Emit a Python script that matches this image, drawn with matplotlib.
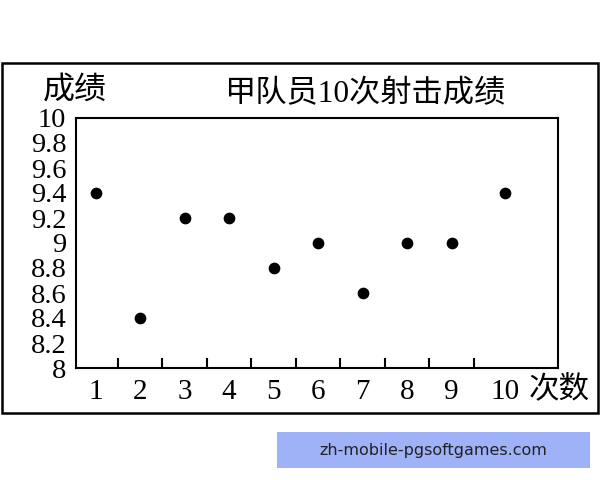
import matplotlib
matplotlib.use("Agg")
import matplotlib.pyplot as plt
from matplotlib.patches import Rectangle

plt.rcParams['font.family'] = ['Liberation Serif', 'Noto Sans CJK SC', 'DejaVu Sans']

shots = [1, 2, 3, 4, 5, 6, 7, 8, 9, 10]
shot_pos = [1, 2, 3, 4, 5, 6, 7, 8, 9, 10.2]
scores = [9.4, 8.4, 9.2, 9.2, 8.8, 9.0, 8.6, 9.0, 9.0, 9.4]
y_ticks = [8, 8.2, 8.4, 8.6, 8.8, 9, 9.2, 9.4, 9.6, 9.8, 10]
y_labels = ['8', '8.2', '8.4', '8.6', '8.8', '9', '9.2', '9.4', '9.6', '9.8', '10']
x_labels = ['1', '2', '3', '4', '5', '6', '7', '8', '9', '10']
title = '甲队员10次射击成绩'
ylabel = '成绩'
xlabel = '次数'

W, H = 600, 480
fig = plt.figure(figsize=(6, 4.8), dpi=100)

def fx(px):
    return px / W

def fy(py):
    return 1 - py / H

# outer frame
fig.patches.append(Rectangle((fx(2), fy(413)), fx(596), 350 / H, transform=fig.transFigure,
                             fill=False, edgecolor='black', linewidth=1.8))

ax = fig.add_axes([fx(76), fy(368), fx(558) - fx(76), (368 - 118) / H])
ax.scatter(shot_pos, scores, s=55, color='black', zorder=3)
ax.set_xlim(0.56, 11.39)
ax.set_ylim(8, 10)
ax.set_yticks(y_ticks)
ax.set_yticklabels(y_labels, fontsize=20.5)
ax.tick_params(axis='y', length=0, pad=7)
ax.set_xticks(shot_pos)
ax.set_xticklabels(x_labels, fontsize=21)
ax.tick_params(axis='x', which='major', length=0, pad=8)
ax.set_xticks([s + 0.5 for s in shots[:-1]], minor=True)
ax.tick_params(axis='x', which='minor', direction='in', length=7, width=1.5)
for sp in ax.spines.values():
    sp.set_linewidth(1.5)

fig.text(fx(365), fy(95), title, ha='center', va='center', fontsize=22.5)
fig.text(fx(75), fy(92), ylabel, ha='center', va='center', fontsize=23)
fig.text(fx(559), fy(390), xlabel, ha='center', va='center', fontsize=22)

# watermark banner
fig.patches.append(Rectangle((fx(277), fy(468)), fx(313), 36 / H, transform=fig.transFigure,
                             facecolor='#9fb1f7', edgecolor='none'))
fig.text(fx(433), fy(450), 'zh-mobile-pgsoftgames.com', ha='center', va='center',
         fontsize=11.5, family='DejaVu Sans', color='#222222')

fig.savefig('out.png', dpi=100)
